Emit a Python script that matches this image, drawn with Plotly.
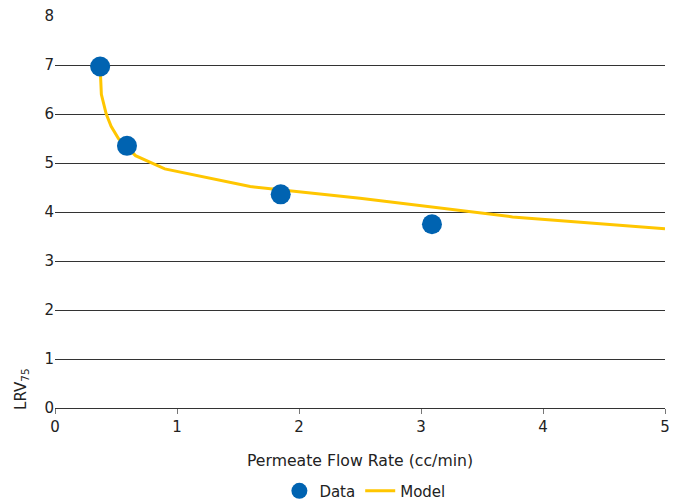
import plotly.graph_objects as go

data_x = [0.37, 0.59, 1.85, 3.09]
data_y = [6.97, 5.35, 4.36, 3.75]

model_x = [0.37, 0.38, 0.42, 0.46, 0.52, 0.60, 0.66, 0.90, 1.60, 2.50, 3.75, 5.0]
model_y = [6.97, 6.40, 6.00, 5.75, 5.50, 5.30, 5.15, 4.88, 4.52, 4.28, 3.90, 3.66]

x_ticks = [0, 1, 2, 3, 4, 5]
y_ticks = [0, 1, 2, 3, 4, 5, 6, 7, 8]

fig = go.Figure()
fig.add_trace(go.Scatter(x=model_x, y=model_y, mode="lines", name="Model",
                         line=dict(color="#FFC600", width=3)))
fig.add_trace(go.Scatter(x=data_x, y=data_y, mode="markers", name="Data",
                         marker=dict(color="#0063B1", size=20)))

fig.add_annotation(text="LRV<sub>75</sub>", xref="paper", yref="paper",
                   x=-0.054, y=-0.01, xanchor="center", yanchor="bottom",
                   textangle=-90, showarrow=False,
                   font=dict(family="DejaVu Sans", size=15, color="#222"))

fig.update_layout(
    width=679, height=500,
    margin=dict(l=55, r=14, t=16, b=92, autoexpand=False),
    plot_bgcolor="white", paper_bgcolor="white",
    font=dict(family="DejaVu Sans", size=15, color="#222"),
    showlegend=True,
    legend=dict(orientation="h", x=0.508, xanchor="center", y=-0.212, yanchor="middle",
                traceorder="reversed", font=dict(size=15)),
    xaxis=dict(range=[0, 5], tickvals=x_ticks, showgrid=False, zeroline=False,
               showline=True, linecolor="#333", linewidth=1,
               ticks="outside", ticklen=5, tickcolor="#777",
               tickfont=dict(size=15),
               title=dict(text="Permeate Flow Rate (cc/min)", standoff=20,
                          font=dict(size=15.7))),
    yaxis=dict(range=[0, 8], tickvals=y_ticks, showgrid=True, gridcolor="#333",
               gridwidth=1, zeroline=False, showline=False, ticks="",
               tickfont=dict(size=15)),
)
fig.write_html("out.html")
